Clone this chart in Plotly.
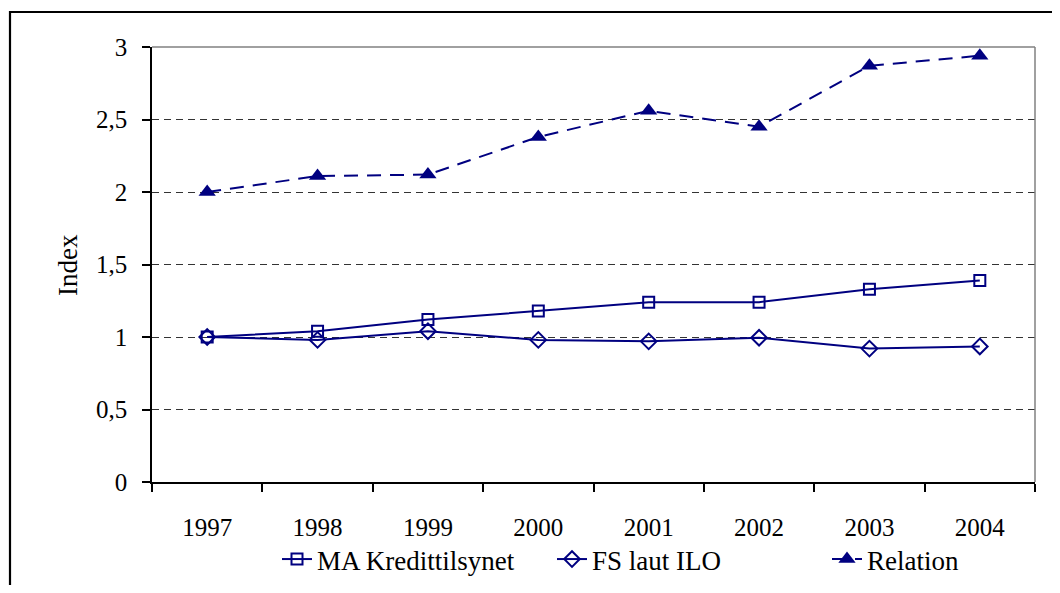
import plotly.graph_objects as go

years = ["1997", "1998", "1999", "2000", "2001", "2002", "2003", "2004"]
ma_kredittilsynet = [1.00, 1.04, 1.12, 1.18, 1.24, 1.24, 1.33, 1.39]
fs_laut_ilo = [1.00, 0.98, 1.04, 0.98, 0.97, 0.995, 0.92, 0.935]
relation = [2.00, 2.11, 2.12, 2.38, 2.56, 2.45, 2.87, 2.94]
y_ticks = [0, 0.5, 1, 1.5, 2, 2.5, 3]

navy = "#000080"
font_family = "Liberation Serif"

fig = go.Figure()
fig.add_trace(go.Scatter(
    x=years, y=ma_kredittilsynet, name="MA Kredittilsynet", mode="lines+markers",
    line=dict(color=navy, width=2),
    marker=dict(symbol="square-open", size=11, color=navy, line=dict(width=2, color=navy)),
))
fig.add_trace(go.Scatter(
    x=years, y=fs_laut_ilo, name="FS laut ILO", mode="lines+markers",
    line=dict(color=navy, width=2),
    marker=dict(symbol="diamond-open", size=12, color=navy, line=dict(width=2, color=navy)),
))
fig.add_trace(go.Scatter(
    x=years, y=relation, name="Relation", mode="lines+markers",
    line=dict(color=navy, width=2, dash="14px,9px"),
    marker=dict(symbol="triangle-up", size=15, color=navy),
))

# page has an 8px body margin; keep the figure inside the window
OFF = 8
W, H = 1060 - 2 * OFF, 593 - 2 * OFF
L, R, T, B = 152 - OFF, (W + OFF) - 1035, 47 - OFF, (H + OFF) - 482
pw, ph = W - L - R, H - T - B

def px(xs):
    return (xs - OFF - L) / pw

def py(ys):
    return (H - B - (ys - OFF)) / ph

shapes = [
    dict(type="line", xref="paper", yref="paper", x0=0, x1=1, y0=1, y1=1,
         line=dict(color="#808080", width=1.5)),
    dict(type="line", xref="paper", yref="paper", x0=1, x1=1, y0=0, y1=1,
         line=dict(color="#808080", width=1.5)),
    dict(type="rect", xref="paper", yref="paper", x0=px(10), x1=px(1075), y0=py(12), y1=py(620),
         line=dict(color="black", width=2.2), layer="above"),
]

fig.update_layout(
    width=W, height=H,
    margin=dict(l=L, r=R, t=T, b=B, autoexpand=False),
    paper_bgcolor="white", plot_bgcolor="white",
    separators=", ",
    font=dict(family=font_family, size=25, color="black"),
    showlegend=True,
    legend=dict(orientation="h", x=px(277), xanchor="left", y=py(535), yanchor="top",
                font=dict(family=font_family, size=27), bgcolor="rgba(0,0,0,0)",
                tracegroupgap=0, entrywidth=230, entrywidthmode="pixels"),
    shapes=shapes,
    annotations=[dict(text="Index", xref="paper", yref="paper", x=px(68), y=py(265),
                      textangle=-90, showarrow=False, font=dict(family=font_family, size=27),
                      xanchor="center", yanchor="middle")],
)
fig.update_xaxes(
    type="category", categoryorder="array", categoryarray=years,
    tickson="boundaries", ticks="outside", ticklen=8, tickcolor="black", tickwidth=1.5,
    showline=True, linecolor="black", linewidth=1.5, showgrid=False,
    tickfont=dict(family=font_family, size=25), range=[-0.5, 7.5], ticklabelstandoff=22,
)
fig.update_yaxes(
    range=[0, 3], tickvals=y_ticks, ticks="outside", ticklen=8, tickcolor="black", tickwidth=1.5,
    showline=True, linecolor="black", linewidth=1.5, zeroline=False,
    showgrid=True, gridcolor="#333333", gridwidth=1, griddash="7px,5px",
    tickfont=dict(family=font_family, size=25), ticklabelstandoff=10,
)

fig.write_html("out.html")
